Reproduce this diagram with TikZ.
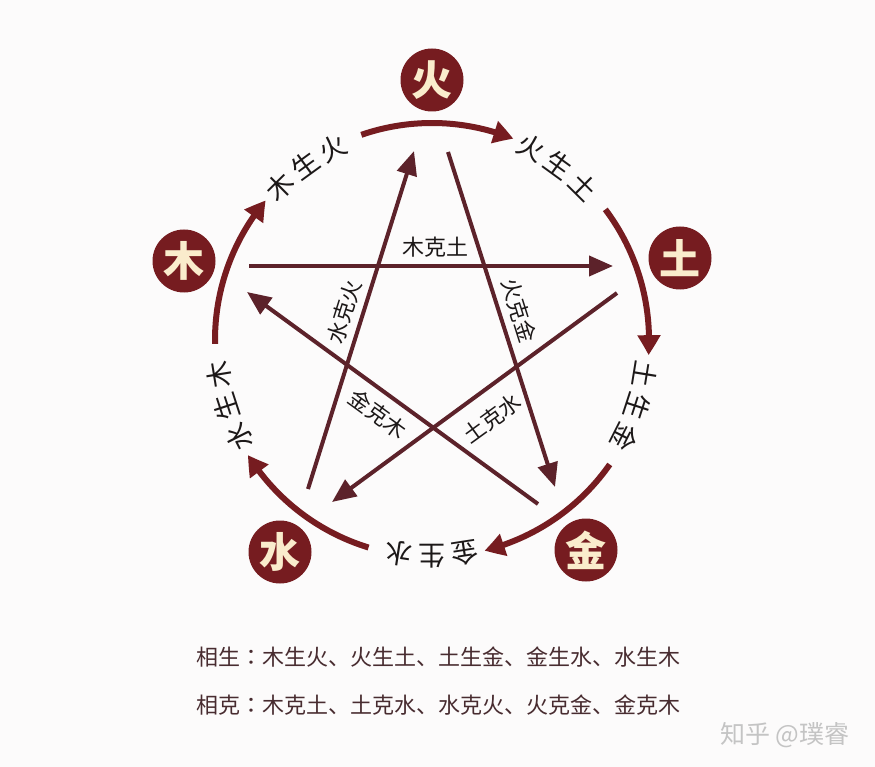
\documentclass[tikz,border=0pt]{standalone}
\usepackage{fontspec}
\newfontfamily\cjk{Noto Sans CJK SC}
\newfontfamily\cjktc{Noto Sans CJK TC}
\usetikzlibrary{arrows.meta,bending}
\definecolor{wxmaroon}{RGB}{118,28,32}
\definecolor{wxline}{RGB}{92,34,42}
\definecolor{wxcream}{RGB}{250,236,204}
\definecolor{wxtext}{RGB}{28,24,24}
\definecolor{wxbottom}{RGB}{72,44,48}
\definecolor{wxbg}{RGB}{252,251,251}
\definecolor{wxmark}{RGB}{196,196,196}
\tikzset{
  elem/.style={circle, fill=wxmaroon, minimum size=63pt, inner sep=0pt, text=wxcream,
    font=\cjk\bfseries\fontsize{41}{41}\selectfont},
  shengarc/.style={draw=wxmaroon, line width=6pt,
    -{Triangle[length=20pt,width=22pt,bend]}},
  kearrow/.style={draw=wxline, line width=4pt,
    -{Triangle[length=24pt,width=20pt]}},
  outerlbl/.style={inner sep=0pt, text=wxtext, font=\cjk\fontsize{27}{27}\selectfont},
  innerlbl/.style={inner sep=0pt, text=wxtext, font=\cjk\fontsize{22}{22}\selectfont},
  bottomlbl/.style={inner sep=0pt, text=wxbottom, font=\cjk\fontsize{22}{22}\selectfont},
  marklbl/.style={inner sep=0pt, text=wxmark, font=\cjk\fontsize{25}{25}\selectfont}
}
\begin{document}
\begin{tikzpicture}[x=1pt,y=-1pt]
\path[fill=wxbg] (0,0) rectangle (875,767);
\useasboundingbox (0,0) rectangle (875,767);

% outer generating arcs
\foreach \L [count=\i] in {-36,36,108,180,252} {
  \pgfmathsetmacro\aa{\L+17}
  \pgfmathsetmacro\sx{432+217*sin(\aa)}
  \pgfmathsetmacro\sy{340-217*cos(\aa)}
  \pgfmathsetmacro\sa{90-\aa}
  \pgfmathsetmacro\ea{90-\aa-41}
  \coordinate (arcstart\i) at (\sx,\sy);
  \draw[shengarc] (arcstart\i) arc[start angle=\sa, end angle=\ea, radius=217pt];
}

% outer labels, one character at a time along the circle
\foreach \L/\A/\B/\C [count=\i] in {-36/木/生/火, 36/火/生/土, 108/土/生/金, 180/金/生/水, 252/水/生/木} {
  \foreach \c/\d [count=\j] in {\A/-1,\B/0,\C/1} {
    \pgfmathsetmacro\bb{\L+\d*8.8}
    \pgfmathsetmacro\px{432+216*sin(\bb)}
    \pgfmathsetmacro\py{340-216*cos(\bb)}
    \pgfmathsetmacro\rr{-\bb}
    \node[outerlbl, rotate=\rr] (ol\i-\j) at (\px,\py) {\c};
  }
}

% star (restraining) arrows
\coordinate (A1) at (249,266); \coordinate (A2) at (613,266);
\coordinate (B1) at (617,293); \coordinate (B2) at (332,502);
\coordinate (C1) at (308,489); \coordinate (C2) at (414,151);
\coordinate (D1) at (448,152); \coordinate (D2) at (555,487);
\coordinate (E1) at (538,504); \coordinate (E2) at (247,292);
\draw[kearrow] (A1) -- (A2);
\draw[kearrow] (B1) -- (B2);
\draw[kearrow] (C1) -- (C2);
\draw[kearrow] (D1) -- (D2);
\draw[kearrow] (E1) -- (E2);

\node[innerlbl] (kA) at (435,247) {木克土};
\node[innerlbl, rotate=72.6] (kC) at (344,312) {水克火};
\node[innerlbl, rotate=-72.5] (kD) at (519,310) {火克金};
\node[innerlbl, rotate=-36] (kE) at (378,414) {金克木};
\node[innerlbl, rotate=36] (kB) at (492,418) {土克水};

% element circles
\node[elem] (huo) at (432,80) {火};
\node[elem] (tu) at (680,258) {土};
\node[elem] (jin) at (586,550) {金};
\node[elem] (shui) at (280,552) {水};
\node[elem] (mu) at (184,261) {木};

% legend text
\node[bottomlbl] (sheng) at (438,657) {相生{\cjktc ：}木生火、火生土、土生金、金生水、水生木};
\node[bottomlbl] (ke) at (438,705) {相克{\cjktc ：}木克土、土克水、水克火、火克金、金克木};
\node[marklbl] (mark) at (785,735) {知乎 @璞睿};
\end{tikzpicture}
\end{document}
